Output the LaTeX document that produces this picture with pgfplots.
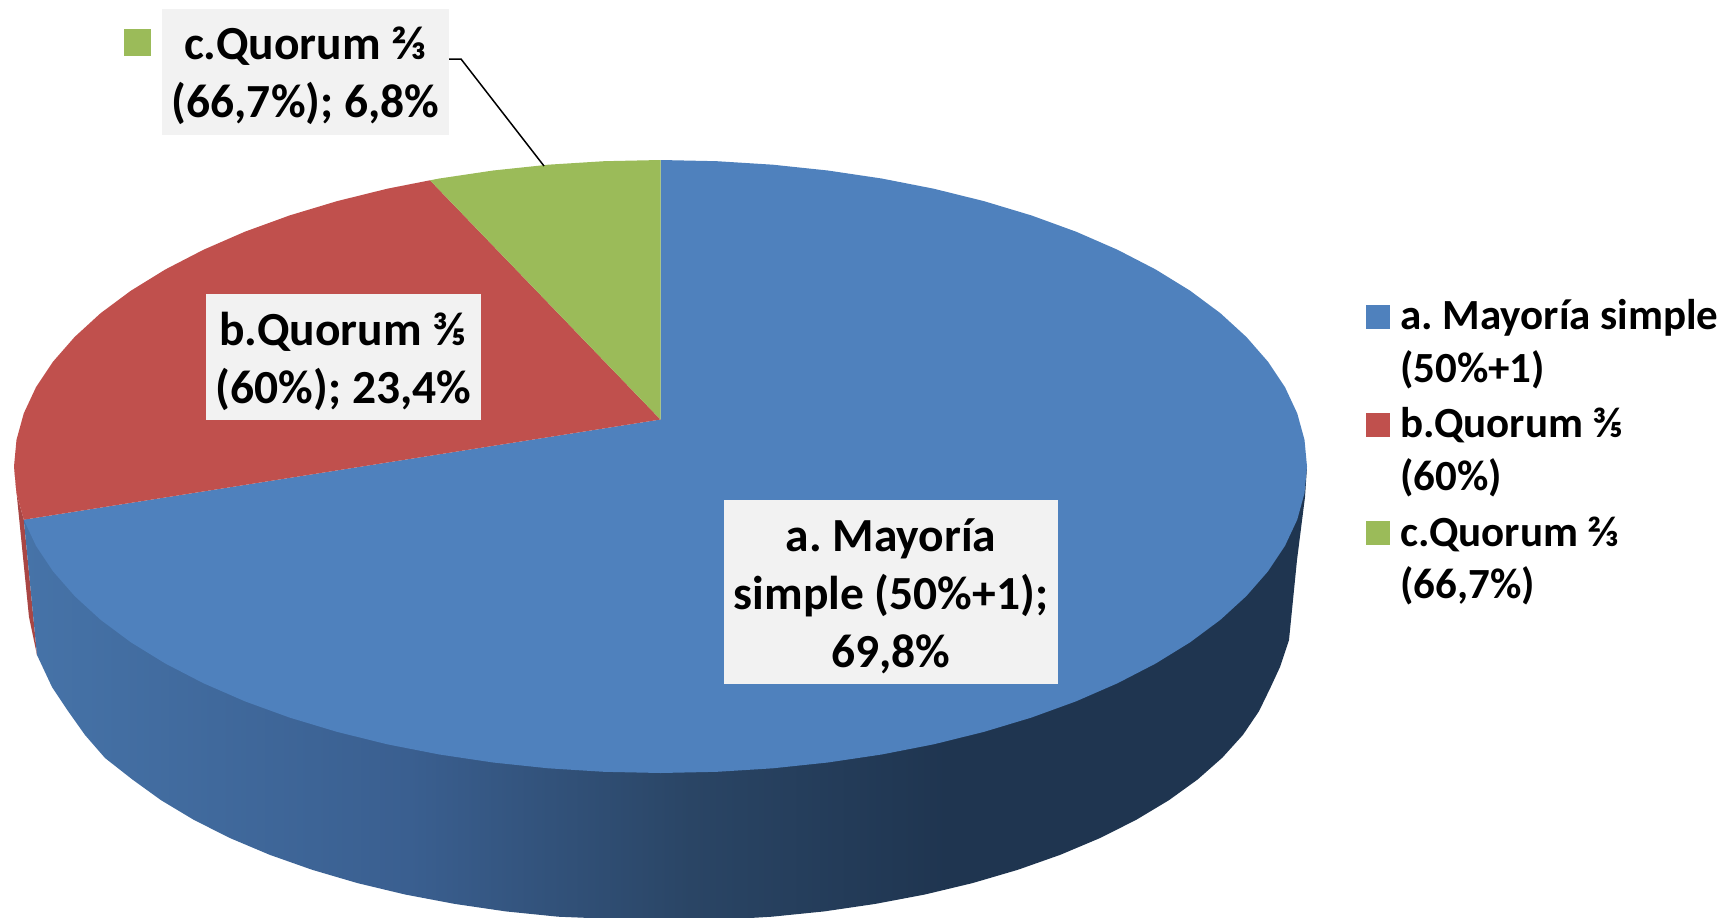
\documentclass[border=0pt]{standalone}
\usepackage{pgfplots}
\pgfplotsset{compat=1.18}
\usepackage{fontspec}
\setmainfont{Carlito}
\frenchspacing
\definecolor{cblue}{HTML}{4F81BD}
\definecolor{cred}{HTML}{C0504D}
\definecolor{cgreen}{HTML}{9BBB59}
\definecolor{cbox}{HTML}{F2F2F2}
\definecolor{sdA}{HTML}{4673A8}
\definecolor{sdB}{HTML}{3A5F90}
\definecolor{sdC}{HTML}{2A4565}
\definecolor{sdD}{HTML}{1F3550}
% 25bp to 75bp of the shading cover the width of the path
\pgfdeclarehorizontalshading{sideshade}{100bp}{color(0bp)=(sdA); color(25bp)=(sdA); color(40bp)=(sdB); color(51bp)=(sdC); color(61bp)=(sdD); color(100bp)=(sdD)}
\tikzset{
    box/.style={fill=cbox, inner sep=0pt},
    lbl/.style={font=\fontsize{47.5}{58}\selectfont\bfseries, align=center, inner sep=0pt, text=black},
    leg/.style={font=\fontsize{43}{53}\selectfont\bfseries, anchor=base west, inner sep=0pt, text=black},
}
\begin{document}
\begin{tikzpicture}
\begin{axis}[
    width=1722pt, height=918pt, scale only axis,
    xmin=0, xmax=1722, ymin=0, ymax=918, y dir=reverse,
    hide axis,
]
% hide axis drops the axis box from the page size, so keep the full area
\path (rel axis cs:0,0) rectangle (rel axis cs:1,1);
% side wall, red sliver first
\addplot[fill=black!12!cred, draw=none] coordinates {
    (14,466) (17,497) (23,557) (29,617) (37,655) (23.8,519.7) (16.5,493.2)
} --cycle;
\addplot[shading=sideshade, draw=none] coordinates {
    (23.8,519.7) (37,655) (52,687) (68,711) (85,735) (105,758) (132.4,779.5) (161.2,800.3)
    (193.9,819.9) (230.1,838.1) (269.7,854.8) (312.2,869.8) (357.5,883.1) (405.1,894.5)
    (454.7,903.9) (505.8,911.4) (558.2,916.7) (590,918) (750,918) (771.8,916.7)
    (824.2,911.4) (875.3,903.9) (924.9,894.5) (972.5,883.1) (1017.8,869.8) (1060.3,854.8)
    (1099.9,838.1) (1136.1,819.9) (1168.8,800.3) (1197.6,779.5) (1222.4,757.6) (1243,734.8)
    (1259,711.2) (1270.7,687.1) (1280,667) (1289,640) (1297,560) (1305,497) (1307,466.5) (660,466)
} --cycle;
% top face
\addplot[fill=cblue, draw=none] coordinates {
    (660.5,160) (716.9,161.2) (772.8,164.7) (827.8,170.5) (881.6,178.5) (933.7,188.7)
    (983.8,201.1) (1031.3,215.4) (1076.1,231.7) (1117.6,249.8) (1155.7,269.5) (1190.1,290.7)
    (1220.4,313.2) (1246.4,337) (1268,361.7) (1285,387.2) (1297.2,413.3) (1304.5,439.8)
    (1307,466.5) (1304.5,493.2) (1297.2,519.7) (1285,545.8) (1268,571.3) (1246.4,596)
    (1220.4,619.8) (1190.1,642.3) (1155.7,663.5) (1117.6,683.2) (1076.1,701.3) (1031.3,717.6)
    (983.8,731.9) (933.7,744.3) (881.6,754.5) (827.8,762.5) (772.8,768.3) (716.9,771.8)
    (660.5,773) (604.1,771.8) (548.2,768.3) (493.2,762.5) (439.4,754.5) (387.3,744.3)
    (337.2,731.9) (289.7,717.6) (244.9,701.3) (203.4,683.2) (165.3,663.5) (130.9,642.3)
    (100.6,619.8) (74.6,596) (53,571.3) (36,545.8) (23.8,519.7) (660.5,419.5)
} --cycle;
\addplot[fill=cred, draw=none] coordinates {
    (23.8,519.7) (16.5,493.2) (14,466.5) (16.5,439.8) (23.8,413.3) (36,387.2) (53,361.7)
    (74.6,337) (100.6,313.2) (130.9,290.7) (165.3,269.5) (203.4,249.8) (244.9,231.7)
    (289.7,215.4) (337.2,201.1) (387.3,188.7) (430,180.3) (660.5,419.5)
} --cycle;
\addplot[fill=cgreen, draw=none] coordinates {
    (430,180.3) (439.4,178.5) (493.2,170.5) (548.2,164.7) (604.1,161.2) (660.5,160) (660.5,419.5)
} --cycle;
% leader line
\addplot[black, line width=1.5pt] coordinates {(449,59) (461,59) (544,166)};
% data labels
\node[box, minimum width=287pt, minimum height=126pt] at (axis cs:305.5,72) {};
\node[lbl] at (axis cs:305.5,76) {c.Quorum ⅔\\(66,7\%); 6,8\%};
\node[box, minimum width=275pt, minimum height=126pt] at (axis cs:343.5,357) {};
\node[lbl] at (axis cs:343.5,361) {b.Quorum ⅗\\(60\%); 23,4\%};
\node[box, minimum width=334pt, minimum height=184pt] at (axis cs:891,592) {};
\node[lbl] at (axis cs:891,596) {a. Mayoría\\simple (50\%+1);\\69,8\%};
% legend keys
\addplot[fill=cgreen, draw=none] coordinates {(124,29) (151,29) (151,56) (124,56)} --cycle;
\addplot[fill=cblue, draw=none] coordinates {(1366,305) (1390,305) (1390,329) (1366,329)} --cycle;
\addplot[fill=cred, draw=none] coordinates {(1366,413) (1390,413) (1390,437) (1366,437)} --cycle;
\addplot[fill=cgreen, draw=none] coordinates {(1366,521) (1390,521) (1390,545) (1366,545)} --cycle;
% legend text
\node[leg] at (axis cs:1400,329) {a. Mayoría simple};
\node[leg] at (axis cs:1400,382) {(50\%+1)};
\node[leg] at (axis cs:1400,437) {b.Quorum ⅗};
\node[leg] at (axis cs:1400,490) {(60\%)};
\node[leg] at (axis cs:1400,546) {c.Quorum ⅔};
\node[leg] at (axis cs:1400,598) {(66,7\%)};
\end{axis}
\end{tikzpicture}
\end{document}
